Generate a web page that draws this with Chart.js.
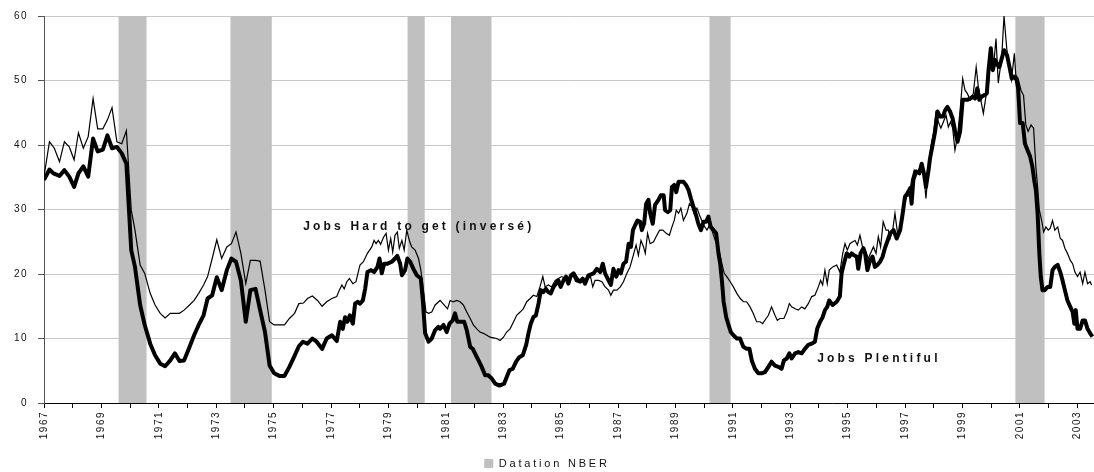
<!DOCTYPE html>
<html>
<head>
<meta charset="utf-8">
<title>Jobs Plentiful / Jobs Hard to get</title>
<script src="https://cdn.jsdelivr.net/npm/chart.js@4/dist/chart.umd.min.js"></script>
<style>
    html, body { margin: 0; padding: 0; background: #fff; }
    #wrap { width: 1094px; height: 472px; position: relative; }
</style>
</head>
<body>
<div id="wrap"><canvas id="chart"></canvas></div>
<script>
// Jobs Plentiful (thick line)
const plentYears = [
    1967.00, 1967.19, 1967.33, 1967.54, 1967.71, 1967.88, 1968.05, 1968.20, 1968.37, 1968.54,
    1968.71, 1968.87, 1969.05, 1969.21, 1969.37, 1969.54, 1969.71, 1969.87, 1970.04, 1970.17,
    1970.35, 1970.51, 1970.70, 1970.87, 1971.05, 1971.22, 1971.40, 1971.56, 1971.72, 1971.88,
    1972.07, 1972.23, 1972.39, 1972.56, 1972.70, 1972.86, 1973.02, 1973.19, 1973.37, 1973.53,
    1973.69, 1973.86, 1974.03, 1974.19, 1974.37, 1974.53, 1974.70, 1974.86, 1975.02, 1975.20,
    1975.38, 1975.55, 1975.73, 1975.88, 1976.02, 1976.18, 1976.35, 1976.50, 1976.69, 1976.85,
    1977.03, 1977.20, 1977.32, 1977.41, 1977.49, 1977.57, 1977.66, 1977.76, 1977.84, 1977.93,
    1978.01, 1978.11, 1978.19, 1978.27, 1978.39, 1978.50, 1978.62, 1978.69, 1978.77, 1978.85,
    1978.97, 1979.12, 1979.23, 1979.31, 1979.41, 1979.47, 1979.58, 1979.66, 1979.76, 1979.87,
    1979.99, 1980.13, 1980.20, 1980.28, 1980.40, 1980.51, 1980.63, 1980.74, 1980.80, 1980.92,
    1981.03, 1981.13, 1981.24, 1981.32, 1981.40, 1981.52, 1981.64, 1981.73, 1981.85, 1981.94,
    1982.05, 1982.14, 1982.25, 1982.37, 1982.48, 1982.60, 1982.72, 1982.87, 1983.03, 1983.12,
    1983.22, 1983.33, 1983.45, 1983.56, 1983.68, 1983.80, 1983.88, 1983.96, 1984.05, 1984.14,
    1984.23, 1984.31, 1984.40, 1984.49, 1984.57, 1984.66, 1984.75, 1984.84, 1984.92, 1985.00,
    1985.10, 1985.19, 1985.27, 1985.36, 1985.45, 1985.56, 1985.68, 1985.77, 1985.85, 1985.97,
    1986.15, 1986.26, 1986.38, 1986.47, 1986.55, 1986.67, 1986.75, 1986.84, 1986.94, 1987.02,
    1987.10, 1987.19, 1987.28, 1987.37, 1987.45, 1987.52, 1987.60, 1987.68, 1987.77, 1987.83,
    1987.91, 1987.98, 1988.06, 1988.12, 1988.21, 1988.29, 1988.41, 1988.49, 1988.59, 1988.64,
    1988.74, 1988.82, 1988.88, 1988.96, 1989.03, 1989.11, 1989.19, 1989.28, 1989.37, 1989.46,
    1989.54, 1989.63, 1989.72, 1989.80, 1989.89, 1989.98, 1990.07, 1990.15, 1990.23, 1990.33,
    1990.42, 1990.50, 1990.56, 1990.62, 1990.68, 1990.77, 1990.85, 1990.93, 1991.02, 1991.14,
    1991.25, 1991.37, 1991.48, 1991.58, 1991.66, 1991.77, 1991.89, 1992.00, 1992.12, 1992.24,
    1992.35, 1992.47, 1992.59, 1992.70, 1992.78, 1992.88, 1992.97, 1993.05, 1993.17, 1993.28,
    1993.40, 1993.51, 1993.63, 1993.75, 1993.86, 1993.94, 1994.04, 1994.13, 1994.21, 1994.29,
    1994.36, 1994.48, 1994.62, 1994.73, 1994.79, 1994.87, 1994.97, 1995.06, 1995.14, 1995.22,
    1995.32, 1995.37, 1995.45, 1995.55, 1995.61, 1995.69, 1995.78, 1995.87, 1995.95, 1996.04,
    1996.13, 1996.22, 1996.30, 1996.38, 1996.48, 1996.60, 1996.71, 1996.83, 1996.92, 1997.00,
    1997.08, 1997.18, 1997.23, 1997.29, 1997.39, 1997.50, 1997.58, 1997.66, 1997.73, 1997.82,
    1997.87, 1997.97, 1998.05, 1998.13, 1998.22, 1998.32, 1998.40, 1998.48, 1998.57, 1998.66,
    1998.74, 1998.83, 1998.92, 1999.01, 1999.09, 1999.17, 1999.27, 1999.36, 1999.44, 1999.52,
    1999.59, 1999.67, 1999.76, 1999.85, 1999.91, 1999.99, 2000.06, 2000.14, 2000.22, 2000.29,
    2000.37, 2000.45, 2000.55, 2000.64, 2000.72, 2000.80, 2000.89, 2000.94, 2001.01, 2001.10,
    2001.18, 2001.27, 2001.36, 2001.44, 2001.50, 2001.56, 2001.62, 2001.68, 2001.73, 2001.79,
    2001.87, 2001.97, 2002.06, 2002.14, 2002.22, 2002.32, 2002.41, 2002.49, 2002.57, 2002.66,
    2002.76, 2002.84, 2002.90, 2002.95, 2003.01, 2003.10, 2003.19, 2003.27, 2003.36, 2003.45,
    2003.53
];
const plentValues = [
    34.6, 36.2, 35.6, 35.2, 36.1, 35.1, 33.5, 35.6, 36.7, 35.1,
    41.0, 39.0, 39.3, 41.5, 39.5, 39.7, 38.7, 37.1, 23.7, 21.1,
    15.2, 12.1, 9.2, 7.4, 6.1, 5.7, 6.6, 7.7, 6.5, 6.6,
    8.7, 10.5, 12.1, 13.6, 16.2, 16.7, 19.5, 17.5, 20.6, 22.4,
    21.9, 19.0, 12.6, 17.5, 17.7, 14.4, 11.0, 5.8, 4.6, 4.2,
    4.2, 5.6, 7.3, 8.8, 9.5, 9.2, 10.0, 9.5, 8.4, 10.0,
    10.5, 9.6, 12.6, 11.5, 13.3, 12.6, 13.6, 12.3, 15.4, 15.7,
    15.4, 15.9, 17.7, 20.3, 20.6, 20.3, 21.1, 22.4, 20.1, 21.6,
    21.6, 21.9, 22.4, 22.8, 21.6, 19.8, 20.6, 22.4, 21.9, 20.8,
    19.8, 19.3, 15.9, 10.8, 9.5, 10.0, 11.3, 11.8, 11.5, 12.1,
    11.0, 12.3, 12.8, 13.9, 12.6, 12.6, 12.6, 11.3, 8.7, 8.4,
    7.4, 6.6, 5.6, 4.3, 4.3, 3.8, 3.0, 2.7, 3.0, 4.0,
    5.1, 5.3, 6.4, 7.1, 7.4, 9.0, 10.8, 12.3, 13.3, 13.6,
    15.4, 17.5, 17.2, 17.7, 17.2, 17.0, 18.0, 18.5, 19.0, 18.0,
    19.0, 19.6, 18.5, 19.8, 20.1, 19.0, 18.8, 19.3, 18.5, 19.8,
    20.1, 20.8, 20.3, 21.6, 20.1, 19.0, 18.3, 20.8, 19.6, 20.6,
    20.1, 21.6, 21.9, 24.7, 24.2, 26.8, 27.6, 28.3, 28.1, 26.8,
    27.8, 30.9, 31.5, 29.4, 27.8, 30.7, 31.5, 32.2, 32.2, 29.9,
    29.6, 29.9, 33.5, 33.8, 32.7, 34.3, 34.3, 34.3, 33.8, 33.0,
    31.7, 30.4, 29.1, 27.8, 26.8, 28.1, 28.1, 28.9, 27.3, 26.8,
    26.3, 23.2, 21.6, 19.0, 15.7, 13.3, 12.1, 11.0, 10.5, 10.0,
    10.0, 8.7, 8.4, 8.4, 6.6, 5.3, 4.6, 4.6, 4.8, 5.6,
    6.4, 5.8, 5.6, 5.3, 6.6, 6.9, 7.7, 6.9, 7.7, 7.9,
    7.7, 8.4, 9.0, 9.2, 9.5, 11.5, 12.6, 13.3, 14.4, 14.9,
    15.9, 15.2, 15.7, 16.5, 20.1, 21.6, 23.2, 22.7, 23.2, 22.9,
    22.7, 20.8, 23.2, 24.0, 23.2, 20.6, 22.1, 22.7, 21.1, 21.4,
    21.9, 22.7, 24.0, 25.0, 26.3, 26.8, 25.5, 26.8, 29.4, 32.0,
    32.5, 33.3, 30.9, 34.6, 35.9, 35.6, 37.1, 35.6, 33.5, 36.1,
    37.9, 40.2, 42.1, 45.2, 44.4, 44.4, 45.4, 45.9, 45.2, 44.1,
    42.3, 40.5, 42.1, 47.0, 47.0, 47.0, 47.2, 47.5, 47.2, 48.8,
    47.0, 47.5, 47.7, 48.0, 51.6, 55.0, 51.6, 53.2, 52.4, 52.1,
    53.4, 54.7, 54.0, 52.1, 50.3, 50.6, 50.1, 48.8, 43.4, 43.4,
    40.2, 39.2, 38.2, 36.6, 34.6, 33.0, 29.4, 23.2, 19.6, 17.5,
    17.5, 18.0, 18.0, 20.6, 21.1, 21.4, 20.3, 19.0, 17.5, 15.9,
    14.9, 14.1, 12.3, 14.4, 11.5, 11.5, 12.8, 12.8, 11.5, 10.8,
    10.3
];

// Jobs Hard to get, inverted (thin line)
const hardYears = [
    1967.00, 1967.19, 1967.36, 1967.54, 1967.71, 1967.88, 1968.05, 1968.20, 1968.37, 1968.54,
    1968.71, 1968.87, 1969.05, 1969.21, 1969.37, 1969.54, 1969.71, 1969.87, 1970.04, 1970.17,
    1970.35, 1970.51, 1970.70, 1970.87, 1971.05, 1971.22, 1971.40, 1971.56, 1971.72, 1971.88,
    1972.07, 1972.23, 1972.39, 1972.56, 1972.70, 1972.86, 1973.02, 1973.19, 1973.37, 1973.53,
    1973.69, 1973.86, 1974.03, 1974.19, 1974.37, 1974.53, 1974.70, 1974.86, 1975.02, 1975.20,
    1975.38, 1975.55, 1975.73, 1975.88, 1976.04, 1976.18, 1976.35, 1976.53, 1976.69, 1976.85,
    1977.03, 1977.20, 1977.29, 1977.38, 1977.46, 1977.55, 1977.64, 1977.76, 1977.87, 1978.01,
    1978.13, 1978.27, 1978.42, 1978.50, 1978.57, 1978.65, 1978.73, 1978.83, 1978.92, 1979.00,
    1979.08, 1979.15, 1979.23, 1979.31, 1979.38, 1979.47, 1979.55, 1979.64, 1979.73, 1979.81,
    1979.93, 1980.05, 1980.13, 1980.22, 1980.31, 1980.40, 1980.51, 1980.63, 1980.80, 1980.94,
    1981.06, 1981.15, 1981.26, 1981.38, 1981.50, 1981.61, 1981.73, 1981.85, 1981.96, 1982.08,
    1982.19, 1982.31, 1982.43, 1982.54, 1982.66, 1982.77, 1982.89, 1983.01, 1983.12, 1983.24,
    1983.36, 1983.47, 1983.59, 1983.70, 1983.82, 1983.94, 1984.05, 1984.17, 1984.28, 1984.38,
    1984.46, 1984.57, 1984.69, 1984.81, 1984.92, 1985.04, 1985.16, 1985.27, 1985.39, 1985.50,
    1985.62, 1985.74, 1985.85, 1985.97, 1986.03, 1986.12, 1986.20, 1986.32, 1986.44, 1986.55,
    1986.67, 1986.75, 1986.84, 1986.96, 1987.08, 1987.19, 1987.31, 1987.42, 1987.52, 1987.63,
    1987.71, 1987.80, 1987.89, 1987.95, 1988.03, 1988.12, 1988.24, 1988.33, 1988.45, 1988.56,
    1988.68, 1988.79, 1988.88, 1988.96, 1989.03, 1989.11, 1989.19, 1989.28, 1989.40, 1989.49,
    1989.57, 1989.65, 1989.75, 1989.86, 1989.98, 1990.10, 1990.19, 1990.27, 1990.39, 1990.50,
    1990.62, 1990.70, 1990.79, 1990.91, 1991.02, 1991.14, 1991.26, 1991.37, 1991.48, 1991.60,
    1991.71, 1991.83, 1991.95, 1992.04, 1992.16, 1992.24, 1992.35, 1992.47, 1992.55, 1992.64,
    1992.78, 1992.88, 1992.97, 1993.05, 1993.17, 1993.28, 1993.40, 1993.51, 1993.63, 1993.75,
    1993.86, 1993.98, 1994.06, 1994.13, 1994.21, 1994.29, 1994.36, 1994.48, 1994.62, 1994.73,
    1994.83, 1994.91, 1994.99, 1995.08, 1995.18, 1995.26, 1995.34, 1995.43, 1995.52, 1995.61,
    1995.72, 1995.80, 1995.90, 1995.99, 1996.07, 1996.15, 1996.24, 1996.34, 1996.42, 1996.48,
    1996.57, 1996.65, 1996.74, 1996.83, 1996.94, 1997.06, 1997.15, 1997.23, 1997.32, 1997.41,
    1997.53, 1997.64, 1997.73, 1997.82, 1997.90, 1997.99, 1998.08, 1998.16, 1998.25, 1998.34,
    1998.43, 1998.51, 1998.59, 1998.66, 1998.74, 1998.83, 1998.92, 1999.01, 1999.09, 1999.17,
    1999.27, 1999.38, 1999.48, 1999.56, 1999.64, 1999.73, 1999.82, 1999.91, 1999.99, 2000.08,
    2000.17, 2000.25, 2000.37, 2000.45, 2000.55, 2000.63, 2000.71, 2000.81, 2000.86, 2000.94,
    2001.04, 2001.13, 2001.21, 2001.29, 2001.39, 2001.48, 2001.56, 2001.62, 2001.68, 2001.76,
    2001.83, 2001.91, 2001.99, 2002.06, 2002.14, 2002.22, 2002.32, 2002.41, 2002.49, 2002.57,
    2002.66, 2002.76, 2002.84, 2002.92, 2003.01, 2003.10, 2003.19, 2003.27, 2003.36, 2003.45,
    2003.50
];
const hardValues = [
    35.1, 40.5, 39.5, 37.4, 40.5, 39.7, 37.7, 41.9, 39.5, 41.3,
    47.2, 42.5, 42.5, 43.9, 45.8, 40.5, 40.2, 42.2, 29.9, 26.8,
    21.4, 20.1, 17.0, 15.2, 13.9, 13.2, 13.9, 13.9, 13.9, 14.4,
    15.2, 15.9, 17.0, 18.3, 19.6, 22.4, 25.3, 22.4, 24.2, 24.7,
    26.5, 23.2, 18.5, 22.1, 22.1, 22.0, 17.5, 12.6, 12.1, 12.1,
    12.1, 13.1, 13.9, 15.4, 15.5, 16.2, 16.6, 15.9, 15.0, 15.7,
    16.2, 16.5, 17.5, 18.3, 17.7, 18.8, 19.3, 18.5, 18.8, 21.4,
    21.9, 23.2, 24.2, 25.2, 24.7, 25.2, 24.6, 25.7, 26.3, 23.7,
    25.5, 23.4, 26.0, 26.5, 24.0, 25.2, 23.7, 26.8, 25.2, 24.2,
    23.7, 22.4, 20.6, 17.5, 14.1, 13.9, 14.1, 15.2, 15.9, 15.2,
    14.6, 15.9, 15.7, 15.9, 15.7, 15.2, 14.1, 13.1, 12.1, 11.5,
    11.0, 10.8, 10.5, 10.2, 10.1, 10.0, 9.7, 10.2, 11.0, 11.5,
    12.6, 13.6, 14.1, 14.6, 15.7, 16.2, 16.7, 16.5, 18.0, 19.6,
    18.0, 18.3, 18.0, 19.0, 19.3, 19.6, 19.3, 19.0, 19.6, 20.1,
    19.3, 18.8, 19.0, 19.3, 19.8, 18.0, 19.0, 19.0, 18.8, 18.0,
    17.5, 16.7, 17.5, 17.5, 18.0, 18.8, 20.1, 21.1, 22.7, 24.5,
    22.9, 25.2, 24.2, 23.2, 26.3, 24.7, 25.0, 25.8, 26.8, 26.8,
    26.3, 26.0, 27.3, 28.3, 29.9, 29.4, 30.2, 28.3, 29.4, 30.9,
    30.4, 29.4, 30.2, 28.9, 27.6, 26.8, 27.6, 26.8, 25.2, 24.0,
    21.6, 20.1, 19.6, 18.8, 18.0, 17.0, 16.2, 15.7, 15.7, 14.9,
    13.9, 12.6, 12.6, 12.3, 13.1, 13.6, 14.9, 13.6, 12.8, 13.1,
    13.1, 14.1, 15.4, 14.9, 14.6, 14.4, 14.9, 14.6, 15.4, 16.5,
    16.7, 18.0, 19.0, 18.3, 20.6, 18.5, 20.6, 21.1, 21.4, 20.3,
    23.2, 24.7, 23.7, 24.7, 25.0, 25.2, 24.5, 26.0, 24.2, 23.7,
    22.4, 23.2, 24.2, 23.2, 25.8, 24.2, 28.1, 26.8, 26.8, 25.5,
    26.8, 29.4, 26.3, 27.3, 30.4, 32.0, 32.2, 34.6, 36.1, 35.6,
    36.6, 36.1, 31.7, 36.6, 39.7, 41.8, 44.9, 43.6, 42.6, 43.6,
    44.6, 42.8, 43.6, 42.6, 39.2, 41.3, 45.4, 50.3, 48.5, 48.0,
    47.0, 48.0, 52.1, 48.8, 47.0, 44.9, 47.5, 49.6, 54.0, 51.9,
    56.5, 49.6, 53.7, 60.0, 54.7, 52.1, 50.1, 54.2, 50.9, 50.3,
    48.5, 47.7, 43.1, 42.1, 43.1, 42.6, 36.6, 33.5, 29.9, 28.3,
    26.5, 27.3, 26.8, 27.1, 28.3, 26.8, 27.3, 25.5, 25.2, 24.0,
    23.2, 22.1, 21.6, 20.3, 19.6, 20.3, 18.5, 20.3, 18.5, 18.8,
    18.3
];

// NBER recessions (shaded bands), as placed on the original time axis
const recessionStart = [1969.59, 1973.49, 1979.66, 1981.18, 1990.18, 2000.84];
const recessionEnd   = [1970.58, 1974.94, 1980.27, 1982.60, 1990.93, 2001.87];

const yearLabels = [1967, 1969, 1971, 1973, 1975, 1977, 1979, 1981, 1983, 1985,
                    1987, 1989, 1991, 1993, 1995, 1997, 1999, 2001, 2003];
const valueTicks = [0, 10, 20, 30, 40, 50, 60];

const seriesNames = ['Jobs Plentiful', 'Jobs Hard to get (inversé)', 'Datation NBER'];

const FONT = 'Arial, "Liberation Sans", Helvetica, sans-serif';

function toPoints(xs, ys) {
    return xs.map((x, i) => ({ x: x, y: ys[i] }));
}

// each band is a filled segment along the top of the axis, broken by a gap;
// it pokes a hair above the top gridline like the original
function bandPoints() {
    const top = valueTicks[valueTicks.length - 1] + 0.3;
    const pts = [];
    recessionStart.forEach((s, i) => {
        pts.push({ x: s, y: top });
        pts.push({ x: recessionEnd[i], y: top });
        if (i < recessionStart.length - 1) {
            pts.push({ x: (recessionEnd[i] + recessionStart[i + 1]) / 2, y: null });
        }
    });
    return pts;
}

// text labels placed next to the curves (x in years, y in axis units)
const annotations = [
    { text: seriesNames[1], x: 1976.03, y: 27.4 },
    { text: seriesNames[0], x: 1993.94, y: 6.8 }
];

const spacingPlugin = {
    id: 'spacing',
    beforeUpdate(chart) { chart.ctx.letterSpacing = '1.5px'; },
    beforeDraw(chart) { chart.ctx.letterSpacing = '1.5px'; },
    afterInit(chart) {
        // wider spacing for the legend text only
        const legend = chart.legend;
        if (!legend) return;
        ['fit', 'draw'].forEach(name => {
            const orig = legend[name];
            legend[name] = function (...args) {
                const c = this.ctx;
                const prev = c.letterSpacing;
                c.letterSpacing = '2.8px';
                const res = orig.apply(this, args);
                c.letterSpacing = prev;
                return res;
            };
        });
    }
};

const annotationPlugin = {
    id: 'curveLabels',
    afterDatasetsDraw(chart) {
        const ctx = chart.ctx;
        const xs = chart.scales.x;
        const ys = chart.scales.y;
        ctx.save();
        ctx.letterSpacing = '3.2px';
        ctx.font = 'bold 12px ' + FONT;
        ctx.fillStyle = '#111';
        ctx.textAlign = 'left';
        ctx.textBaseline = 'middle';
        annotations.forEach(a => {
            ctx.fillText(a.text, xs.getPixelForValue(a.x), ys.getPixelForValue(a.y));
        });
        ctx.restore();
    }
};

const ctx = document.getElementById('chart').getContext('2d');
new Chart(ctx, {
    type: 'line',
    data: {
        datasets: [
            {
                label: seriesNames[1],
                data: toPoints(hardYears, hardValues),
                borderColor: '#000',
                borderWidth: 1.2,
                pointRadius: 0,
                tension: 0,
                fill: false,
                order: 1
            },
            {
                label: seriesNames[0],
                data: toPoints(plentYears, plentValues),
                borderColor: '#000',
                borderWidth: 4,
                borderJoinStyle: 'round',
                pointRadius: 0,
                tension: 0,
                fill: false,
                order: 2
            },
            {
                label: seriesNames[2],
                data: bandPoints(),
                borderColor: '#c0c0c0',
                backgroundColor: '#c0c0c0',
                borderWidth: 0,
                pointRadius: 0,
                tension: 0,
                spanGaps: false,
                fill: 'origin',
                clip: { left: 0, right: 0, top: 3, bottom: 0 },
                order: 3
            }
        ]
    },
    options: {
        responsive: true,
        maintainAspectRatio: false,
        animation: false,
        events: [],
        layout: { padding: { top: 16, left: 0, right: 0, bottom: 0 } },
        plugins: {
            tooltip: { enabled: false },
            legend: {
                position: 'bottom',
                maxHeight: 18,
                labels: {
                    filter: item => item.text === seriesNames[2],
                    boxWidth: 9,
                    boxHeight: 9,
                    padding: 4,
                    color: '#111',
                    font: { family: FONT, size: 11 }
                }
            }
        },
        scales: {
            x: {
                type: 'linear',
                min: 1967,
                max: 2003.585,
                afterFit: scale => { scale.height = 69 - scale.chart.legend.height; },
                border: { display: true, color: '#000', width: 1 },
                grid: {
                    drawOnChartArea: false,
                    drawTicks: true,
                    tickLength: 5,
                    tickColor: '#000'
                },
                ticks: {
                    stepSize: 1,
                    includeBounds: false,
                    autoSkip: false,
                    minRotation: 90,
                    maxRotation: 90,
                    padding: 3,
                    color: '#111',
                    font: { family: FONT, size: 10 },
                    callback: v => yearLabels.includes(v) ? String(v) : ''
                }
            },
            y: {
                min: valueTicks[0],
                max: valueTicks[valueTicks.length - 1],
                afterFit: scale => { scale.width = 44; },
                border: { display: true, color: '#555', width: 1 },
                grid: {
                    color: '#c8c8c8',
                    lineWidth: 1,
                    drawTicks: true,
                    tickLength: 6,
                    tickColor: '#555'
                },
                ticks: {
                    stepSize: 10,
                    padding: 10,
                    color: '#111',
                    font: { family: FONT, size: 10 },
                    callback: v => valueTicks.includes(v) ? String(v) : ''
                }
            }
        }
    },
    plugins: [spacingPlugin, annotationPlugin]
});
</script>
</body>
</html>
